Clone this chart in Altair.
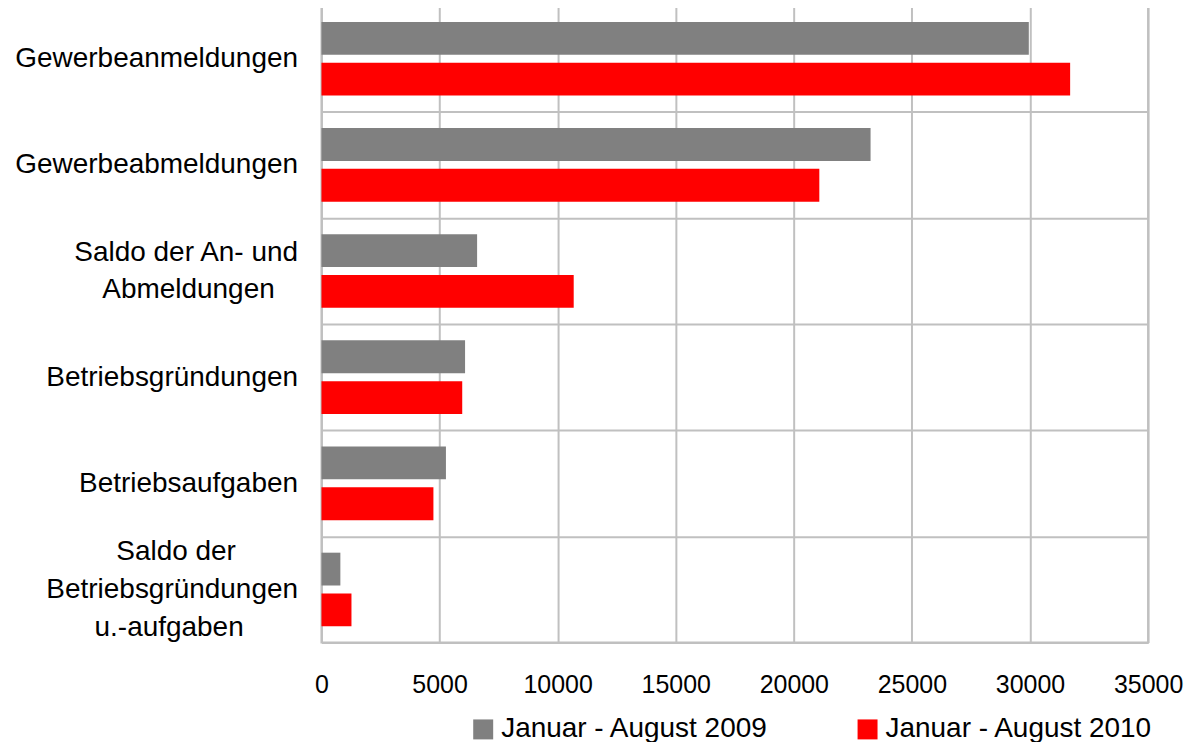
import altair as alt
import pandas as pd

categories = [
    "Gewerbeanmeldungen",
    "Gewerbeabmeldungen",
    "Saldo der An- und Abmeldungen",
    "Betriebsgründungen",
    "Betriebsaufgaben",
    "Saldo der Betriebsgründungen u.-aufgaben",
]
# line breaks of the multi-line category labels (as in the reference)
label_lines = {
    "Saldo der An- und Abmeldungen": ["Saldo der An- und", "Abmeldungen"],
    "Saldo der Betriebsgründungen u.-aufgaben": ["Saldo der", "Betriebsgründungen", "u.-aufgaben"],
}
series = ["Januar - August 2009", "Januar - August 2010"]
values_2009 = [29950, 23250, 6590, 6080, 5270, 800]
values_2010 = [31700, 21080, 10680, 5960, 4740, 1270]
x_ticks = [0, 5000, 10000, 15000, 20000, 25000, 30000, 35000]
colors = ["#808080", "#ff0000"]

rows = []
for c, a, b in zip(categories, values_2009, values_2010):
    rows.append({"Kategorie": c, "Zeitraum": series[0], "Wert": a})
    rows.append({"Kategorie": c, "Zeitraum": series[1], "Wert": b})
df = pd.DataFrame(rows)

FONT = "Liberation Sans"
NB = "\u00a0"
ZW = "\u200b"  # zero-width end marker so the padding is not trimmed
# trailing no-break spaces so that the right-aligned lines appear centred in their block
pads = {
    "Saldo der An- und Abmeldungen": [0, 3],
    "Saldo der Betriebsgründungen u.-aufgaben": [8, 0, 7],
}

def js(s):
    return "'" + s.replace("'", "\\'") + "'"

expr = "datum.label"
for cat, lines in label_lines.items():
    padded = [ln + (NB * p + ZW if p else "") for ln, p in zip(lines, pads[cat])]
    arr = "[" + ", ".join(js(p) for p in padded) + "]"
    expr = f"datum.value == {js(cat)} ? {arr} : ({expr})"

two_line = "Saldo der An- und Abmeldungen"
three_line = "Saldo der Betriebsgründungen u.-aufgaben"
label_baseline = {
    "condition": [
        {"test": f"datum.value == {js(two_line)}", "value": "middle"},
        {"test": f"datum.value == {js(three_line)}", "value": "line-bottom"},
    ],
    "value": "line-top",
}

chart = (
    alt.Chart(df)
    .mark_bar()
    .encode(
        x=alt.X(
            "Wert:Q",
            scale=alt.Scale(domain=[0, 35000], nice=False),
            axis=alt.Axis(
                values=x_ticks,
                format="d",
                title=None,
                grid=True,
                gridColor="#c0c0c0",
                gridWidth=2,
                ticks=False,
                domain=False,
                labelFlush=False,
                labelFont=FONT,
                labelFontSize=25,
                labelColor="#000000",
                labelPadding=30,
            ),
        ),
        y=alt.Y(
            "Kategorie:N",
            sort=categories,
            scale=alt.Scale(domain=categories, paddingInner=0, paddingOuter=0),
            axis=alt.Axis(
                title=None,
                grid=True,
                tickBand="extent",
                gridColor="#c0c0c0",
                gridWidth=2,
                ticks=False,
                domain=False,
                labelExpr=expr,
                labelFont=FONT,
                labelFontSize=28,
                labelColor="#000000",
                labelLineHeight=38,
                labelAlign="right",
                labelBaseline=label_baseline,
                labelOffset=-19,
                labelPadding=24,
                labelLimit=0,
            ),
        ),
        yOffset=alt.YOffset(
            "Zeitraum:N",
            sort=series,
            scale=alt.Scale(domain=series, paddingInner=0.195, paddingOuter=0.399),
        ),
        color=alt.Color(
            "Zeitraum:N",
            scale=alt.Scale(domain=series, range=colors),
            legend=alt.Legend(
                title=None,
                orient="none",
                legendX=148,
                legendY=711,
                direction="horizontal",
                symbolType="square",
                symbolSize=400,
                symbolStrokeWidth=0,
                symbolOpacity=1,
                labelFont=FONT,
                labelFontSize=28,
                labelColor="#000000",
                labelOffset=4,
                columnPadding=85,
                padding=0,
                labelLimit=0,
            ),
        ),
    )
    .properties(
        width=828,
        height=638,
        padding={"left": 314, "top": -3, "right": 45, "bottom": 110},
        autosize=alt.AutoSizeParams(type="none"),
    )
    .configure_view(stroke="#c0c0c0", strokeWidth=2)
)

chart.save("out.html", embed_options={"renderer": "svg", "actions": False})
